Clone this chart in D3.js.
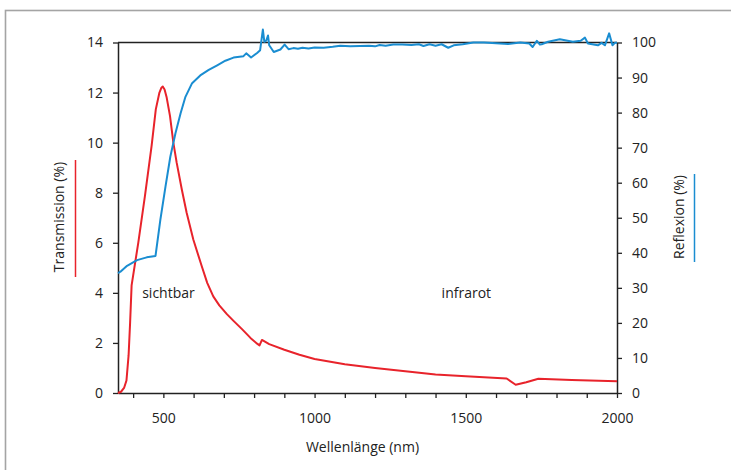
<!DOCTYPE html>
<html>
<head>
<meta charset="utf-8">
<script src="https://cdn.jsdelivr.net/npm/d3@7"></script>
<style>
  body { margin: 0; background: #fff; }
  text { font-family: "Open Sans", sans-serif; fill: #222; }
</style>
</head>
<body>
<div id="chart"></div>
<script>
'use strict';

// Transmission (red, left axis)
let transNm  = [350, 360, 370, 378, 385, 390, 395, 417, 439, 461, 475, 487, 493, 498, 504, 511, 522, 533, 544, 561, 577, 599, 627, 645, 665, 685, 710, 732, 760, 788, 810, 818, 826, 850, 900, 950, 1000, 1100, 1200, 1300, 1400, 1500, 1635, 1665, 1700, 1740, 1850, 2000]
let transVal = [0, 0.05, 0.2, 0.5, 1.5, 2.8, 4.3, 6.0, 7.86, 9.86, 11.33, 12.0, 12.18, 12.24, 12.12, 11.8, 11.06, 10.0, 9.2, 8.13, 7.2, 6.13, 5.06, 4.4, 3.86, 3.5, 3.15, 2.88, 2.55, 2.2, 1.97, 1.9, 2.12, 1.95, 1.73, 1.53, 1.36, 1.15, 1.0, 0.87, 0.74, 0.67, 0.58, 0.33, 0.43, 0.57, 0.52, 0.47]

// Reflexion (blue, right axis)
let reflNm  = [350, 358, 380, 413, 445, 474, 490, 507, 523, 540, 557, 573, 595, 622, 650, 678, 705, 732, 765, 774, 790, 810, 820, 829, 834, 840, 846, 850, 865, 887, 901, 914, 930, 945, 960, 980, 1000, 1030, 1060, 1085, 1118, 1150, 1180, 1200, 1215, 1235, 1260, 1290, 1320, 1345, 1360, 1380, 1400, 1420, 1442, 1460, 1490, 1525, 1560, 1600, 1640, 1680, 1710, 1721, 1735, 1745, 1751, 1772, 1811, 1854, 1880, 1894, 1904, 1937, 1949, 1960, 1974, 1985, 1993, 2000]
let reflVal = [34.2, 34.6, 36.3, 37.9, 38.7, 39.1, 49.4, 58.9, 67.4, 74.1, 79.8, 84.5, 88.4, 90.6, 92.2, 93.5, 94.8, 95.7, 96.1, 96.9, 95.7, 97, 97.8, 103.7, 100.2, 100.5, 102, 99.2, 97.3, 98, 99.4, 98.1, 98.4, 98.2, 98.5, 98.3, 98.6, 98.5, 98.8, 99.1, 98.9, 99.0, 99.1, 98.9, 99.3, 99.1, 99.4, 99.4, 99.3, 99.5, 99.0, 99.5, 99.1, 99.5, 98.5, 99.2, 99.5, 100, 100, 99.8, 99.6, 100, 99.7, 98.7, 100.5, 99.4, 99.5, 100.2, 100.9, 100.2, 100.5, 101.4, 99.7, 99.2, 99.9, 99.2, 102.6, 99.2, 99.9, 99.9]

let xTicks = [400, 500, 600, 700, 800, 900, 1000, 1100, 1200, 1300, 1400, 1500, 1600, 1700, 1800, 1900, 2000]
let xLabels = [500, 1000, 1500, 2000]
let leftTicks = [0, 2, 4, 6, 8, 10, 12, 14]
let rightTicks = [0, 10, 20, 30, 40, 50, 60, 70, 80, 90, 100]

let red = "#e8232b"
let blue = "#1a8dd1"

let W = 731, H = 470
var margin = { top: 42.5, right: 114, bottom: 77, left: 118 }
let width = W - margin.left - margin.right
let height = H - margin.top - margin.bottom

let svg = d3.select("#chart").append("svg")
    .attr("width", W)
    .attr("height", H)

// outer frame
svg.append("rect")
    .attr("x", 5.5).attr("y", 10.5)
    .attr("width", 760).attr("height", 500)
    .attr("fill", "none")
    .attr("stroke", "#a4a4a4")
    .attr("stroke-width", 1.6)

let g = svg.append("g").attr("transform", "translate(" + margin.left + "," + margin.top + ")")

var x = d3.scaleLinear().domain([350, 2000]).range([0, width])
var yL = d3.scaleLinear().domain([0, 14]).range([height, 0])
var yR = d3.scaleLinear().domain([0, 100]).range([height, 0])

// top frame line
g.append("line")
    .attr("x1", 0).attr("x2", width)
    .attr("y1", 0).attr("y2", 0)
    .attr("stroke", "#222").attr("stroke-width", 1.5)

let xAxis = g.append("g")
    .attr("transform", "translate(0," + height + ")")
    .call(d3.axisBottom(x).tickValues(xTicks).tickSize(5).tickSizeOuter(0)
        .tickFormat(d => xLabels.includes(d) ? d : ""))
xAxis.selectAll("text").attr("dy", "1.6em").style("font-size", "14px")

let leftAxis = g.append("g")
    .call(d3.axisLeft(yL).tickValues(leftTicks).tickSize(5).tickSizeOuter(0))
leftAxis.selectAll("text").attr("x", -15).style("font-size", "14px")

let rightAxis = g.append("g")
    .attr("transform", "translate(" + width + ",0)")
    .call(d3.axisRight(yR).tickValues(rightTicks).tickSize(5).tickSizeOuter(0))
rightAxis.selectAll("text").attr("x", 15).style("font-size", "14px")

g.selectAll(".domain").attr("stroke", "#222").attr("stroke-width", 1.5)
g.selectAll(".tick line").attr("stroke", "#222").attr("stroke-width", 1.3)
g.selectAll(".tick text").attr("fill", "#222").style("font-family", "'Open Sans', sans-serif")

// curves
let transData = transNm.map((d, i) => ({ nm: d, v: transVal[i] }))
let reflData = reflNm.map((d, i) => ({ nm: d, v: reflVal[i] }))

g.append("path")
    .datum(transData)
    .attr("fill", "none")
    .attr("stroke", red)
    .attr("stroke-width", 2)
    .attr("stroke-linejoin", "round")
    .attr("d", d3.line().x(d => x(d.nm)).y(d => yL(d.v)))

g.append("path")
    .datum(reflData)
    .attr("fill", "none")
    .attr("stroke", blue)
    .attr("stroke-width", 2)
    .attr("stroke-linejoin", "round")
    .attr("d", d3.line().x(d => x(d.nm)).y(d => yR(d.v)))

// region labels
g.append("text").attr("x", x(430)).attr("y", yL(3.8)).style("font-size", "14px").text("sichtbar")
g.append("text").attr("x", x(1420)).attr("y", yL(3.8)).style("font-size", "14px").text("infrarot")

// axis titles
svg.append("text")
    .attr("x", margin.left + width / 2 - 5)
    .attr("y", 452)
    .style("text-anchor", "middle")
    .style("font-size", "14px")
    .text("Wellenlänge (nm)")

svg.append("text")
    .attr("transform", "translate(64,217) rotate(-90)")
    .style("text-anchor", "middle")
    .style("font-size", "14px")
    .text("Transmission (%)")
svg.append("line")
    .attr("x1", 75.5).attr("x2", 75.5).attr("y1", 160).attr("y2", 277)
    .attr("stroke", red).attr("stroke-width", 1.5)

svg.append("text")
    .attr("transform", "translate(684,217) rotate(-90)")
    .style("text-anchor", "middle")
    .style("font-size", "14px")
    .text("Reflexion (%)")
svg.append("line")
    .attr("x1", 694.5).attr("x2", 694.5).attr("y1", 174).attr("y2", 262)
    .attr("stroke", blue).attr("stroke-width", 1.5)
</script>
</body>
</html>
